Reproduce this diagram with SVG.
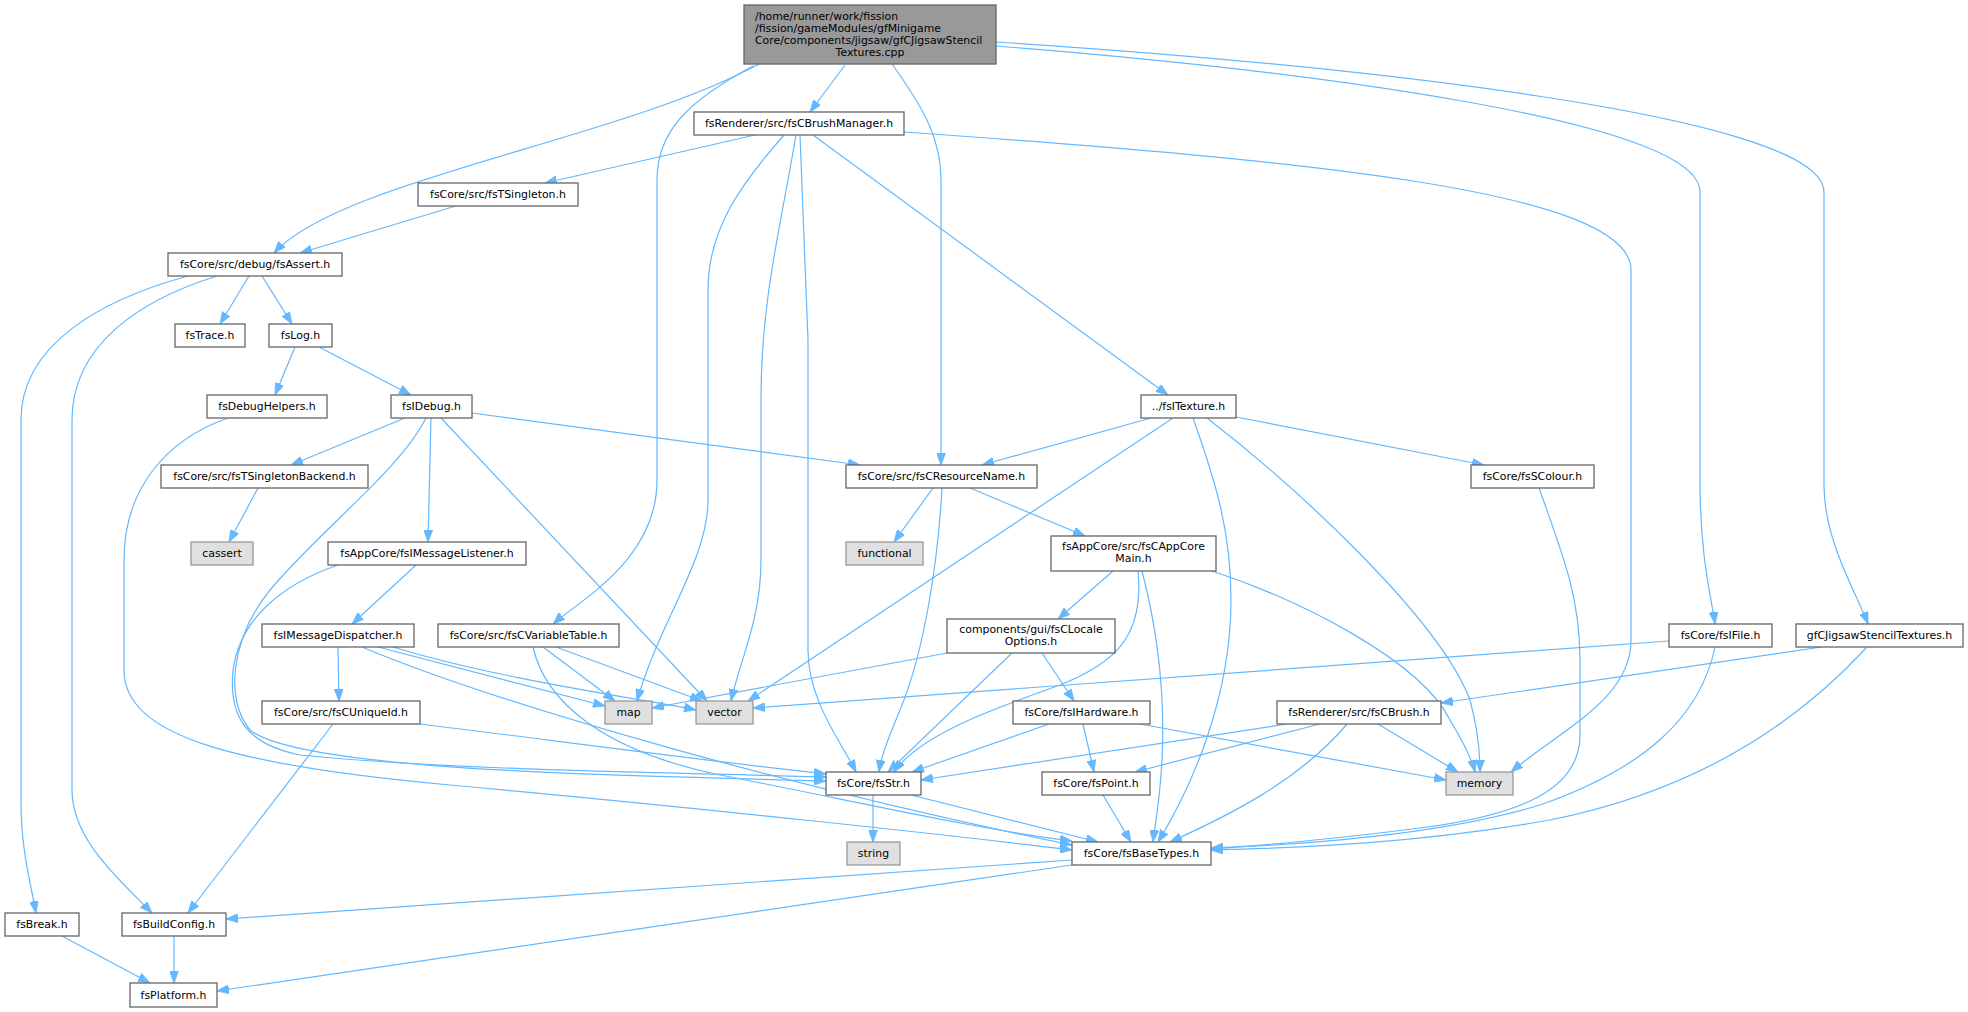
<svg xmlns="http://www.w3.org/2000/svg" width="1968" height="1012" viewBox="0 0 1968 1012">
<style>
.n rect{fill:#ffffff;stroke:#666666;stroke-width:1.3}
.x rect{fill:#e0e0e0;stroke:#999999;stroke-width:1.3}
.m rect{fill:#999999;stroke:#666666;stroke-width:1.3}
text{font-family:"DejaVu Sans",sans-serif;font-size:10.9px;fill:#000000}
.c{text-anchor:middle}
#edges path{fill:none;stroke:#63b8ff;stroke-width:1.2;marker-end:url(#ah)}
</style>
<defs>
<marker id="ah" markerUnits="userSpaceOnUse" markerWidth="12" markerHeight="9" refX="12" refY="4.5" orient="auto"><path d="M0,0 L12,4.5 L0,9 z" fill="#63b8ff" stroke="#63b8ff" stroke-width="0.8"/></marker>
</defs>
<rect width="1968" height="1012" fill="#ffffff"/>
<g id="edges">
<path d="M759,64 C620,140 340,180 274,253"/>
<path d="M845,65 L810,112"/>
<path d="M753,66 C690,100 657,130 657,180 L657,480 C657,560 580,600 553,624"/>
<path d="M892,64 C925,110 941,140 941,180 L941,465"/>
<path d="M996,46 C1300,70 1700,120 1700,192 L1700,480 C1700,560 1712,600 1715,624"/>
<path d="M996,42 C1350,65 1824,115 1824,192 L1824,485 C1824,540 1855,590 1868,624"/>
<path d="M755,135 L545,183"/>
<path d="M904,132 C1300,160 1631,190 1631,270 L1631,640 C1631,700 1560,730 1511,772"/>
<path d="M784,135 C740,185 708,230 708,290 L708,500 C708,560 660,620 637,701"/>
<path d="M796,135 C780,230 761,300 761,400 L761,560 C761,620 740,660 731,701"/>
<path d="M800,135 L808,340 L808,650 C808,700 840,740 856,772"/>
<path d="M813,135 L1168,395"/>
<path d="M459,205 L300,253"/>
<path d="M249,276 L220,324"/>
<path d="M262,276 L292,324"/>
<path d="M188,276 C100,300 21,345 21,420 L21,800 C21,850 30,880 36,913"/>
<path d="M217,276 C140,300 72,345 72,420 L72,790 C72,840 120,880 152,913"/>
<path d="M295,347 L275,395"/>
<path d="M319,347 L411,395"/>
<path d="M228,418 C165,440 124,490 124,560 L124,670 C124,735 230,765 450,785 C700,808 950,835 1072,850"/>
<path d="M405,418 L291,465"/>
<path d="M431,418 L428,542"/>
<path d="M472,413 L860,465"/>
<path d="M441,418 L707,701"/>
<path d="M426,418 C400,470 320,530 270,590 C230,640 225,700 250,730 C300,770 600,775 826,781"/>
<path d="M258,488 L229,542"/>
<path d="M416,565 L352,624"/>
<path d="M338,565 C280,585 240,620 233,670 C228,720 250,745 300,755 C450,770 650,772 826,777"/>
<path d="M338,647 L339,701"/>
<path d="M362,647 C500,705 800,790 1072,845"/>
<path d="M378,647 L605,706"/>
<path d="M393,647 C500,680 650,700 696,710"/>
<path d="M533,647 C545,700 600,750 720,775 C850,800 980,830 1072,841"/>
<path d="M543,647 L615,701"/>
<path d="M556,647 L702,701"/>
<path d="M333,724 L188,913"/>
<path d="M420,724 C550,740 700,760 826,774"/>
<path d="M933,488 L894,542"/>
<path d="M942,488 C938,560 925,650 900,710 C890,735 882,752 879,772"/>
<path d="M970,488 L1085,536"/>
<path d="M1113,571 L1058,619"/>
<path d="M1138,571 C1145,640 1110,665 1060,685 C990,710 920,735 894,772"/>
<path d="M1142,571 C1160,640 1165,700 1162,760 C1160,800 1155,825 1153,842"/>
<path d="M1212,571 C1300,600 1420,660 1450,720 C1465,745 1472,760 1475,772"/>
<path d="M947,653 L652,708"/>
<path d="M1012,653 L888,772"/>
<path d="M1042,653 L1074,701"/>
<path d="M1049,724 L912,772"/>
<path d="M1083,724 L1094,772"/>
<path d="M1140,724 L1446,780"/>
<path d="M1287,724 L921,780"/>
<path d="M1320,724 L1135,772"/>
<path d="M1347,724 C1300,780 1230,815 1170,842"/>
<path d="M1378,724 L1458,772"/>
<path d="M1103,795 L1131,842"/>
<path d="M911,795 L1098,842"/>
<path d="M873,795 L873,842"/>
<path d="M1072,860 L226,919"/>
<path d="M1072,865 L217,991"/>
<path d="M174,936 L174,983"/>
<path d="M62,936 L150,983"/>
<path d="M1151,418 L982,465"/>
<path d="M1173,418 L748,701"/>
<path d="M1193,418 C1215,480 1231,530 1231,600 C1231,700 1190,790 1158,842"/>
<path d="M1207,418 C1300,490 1440,620 1470,700 C1478,730 1480,750 1480,772"/>
<path d="M1236,417 L1484,465"/>
<path d="M1539,488 C1565,560 1580,600 1580,660 L1580,735 C1580,790 1520,815 1420,828 C1350,837 1260,846 1211,849"/>
<path d="M1669,641 L753,708"/>
<path d="M1715,647 C1700,720 1640,770 1540,805 C1440,835 1300,845 1211,848"/>
<path d="M1822,647 L1441,703"/>
<path d="M1867,647 C1800,720 1700,790 1550,820 C1420,843 1300,848 1211,850"/>
</g>
<g id="n_main" class="m"><rect x="744" y="5" width="252" height="59"/><text x="755" y="19.5">/home/runner/work/fission</text><text x="755" y="31.5">/fission/gameModules/gfMinigame</text><text x="755" y="43.5">Core/components/jigsaw/gfCJigsawStencil</text><text class="c" x="870" y="55.5">Textures.cpp</text></g>
<g id="n_brushmgr" class="n"><rect x="694" y="112" width="210" height="23"/><text class="c" x="799" y="127.3">fsRenderer/src/fsCBrushManager.h</text></g>
<g id="n_tsingleton" class="n"><rect x="418" y="183" width="160" height="23"/><text class="c" x="498" y="198.3">fsCore/src/fsTSingleton.h</text></g>
<g id="n_assert" class="n"><rect x="168" y="253" width="174" height="23"/><text class="c" x="255" y="268.3">fsCore/src/debug/fsAssert.h</text></g>
<g id="n_trace" class="n"><rect x="175" y="324" width="70" height="23"/><text class="c" x="210" y="339.3">fsTrace.h</text></g>
<g id="n_log" class="n"><rect x="269" y="324" width="63" height="23"/><text class="c" x="300.5" y="339.3">fsLog.h</text></g>
<g id="n_debughelpers" class="n"><rect x="207" y="395" width="120" height="23"/><text class="c" x="267" y="410.3">fsDebugHelpers.h</text></g>
<g id="n_idebug" class="n"><rect x="391" y="395" width="81" height="23"/><text class="c" x="431.5" y="410.3">fsIDebug.h</text></g>
<g id="n_tsingletonbackend" class="n"><rect x="161" y="465" width="207" height="23"/><text class="c" x="264.5" y="480.3">fsCore/src/fsTSingletonBackend.h</text></g>
<g id="n_cassert" class="x"><rect x="191" y="542" width="62" height="23"/><text class="c" x="222" y="557.3">cassert</text></g>
<g id="n_msglistener" class="n"><rect x="328" y="542" width="198" height="23"/><text class="c" x="427" y="557.3">fsAppCore/fsIMessageListener.h</text></g>
<g id="n_msgdispatcher" class="n"><rect x="262" y="624" width="152" height="23"/><text class="c" x="338" y="639.3">fsIMessageDispatcher.h</text></g>
<g id="n_cvariabletable" class="n"><rect x="438" y="624" width="181" height="23"/><text class="c" x="528.5" y="639.3">fsCore/src/fsCVariableTable.h</text></g>
<g id="n_cuniqueid" class="n"><rect x="262" y="701" width="158" height="23"/><text class="c" x="341" y="716.3">fsCore/src/fsCUniqueId.h</text></g>
<g id="n_map" class="x"><rect x="605" y="701" width="47" height="23"/><text class="c" x="628.5" y="716.3">map</text></g>
<g id="n_vector" class="x"><rect x="696" y="701" width="57" height="23"/><text class="c" x="724.5" y="716.3">vector</text></g>
<g id="n_resourcename" class="n"><rect x="846" y="465" width="191" height="23"/><text class="c" x="941.5" y="480.3">fsCore/src/fsCResourceName.h</text></g>
<g id="n_functional" class="x"><rect x="846" y="542" width="77" height="23"/><text class="c" x="884.5" y="557.3">functional</text></g>
<g id="n_appcoremain" class="n"><rect x="1051" y="536" width="165" height="35"/><text class="c" x="1133.5" y="550">fsAppCore/src/fsCAppCore</text><text class="c" x="1133.5" y="562">Main.h</text></g>
<g id="n_localeoptions" class="n"><rect x="947" y="619" width="168" height="34"/><text class="c" x="1031" y="632.5">components/gui/fsCLocale</text><text class="c" x="1031" y="644.5">Options.h</text></g>
<g id="n_ihardware" class="n"><rect x="1013" y="701" width="137" height="23"/><text class="c" x="1081.5" y="716.3">fsCore/fsIHardware.h</text></g>
<g id="n_cbrush" class="n"><rect x="1277" y="701" width="164" height="23"/><text class="c" x="1359" y="716.3">fsRenderer/src/fsCBrush.h</text></g>
<g id="n_str" class="n"><rect x="826" y="772" width="95" height="23"/><text class="c" x="873.5" y="787.3">fsCore/fsStr.h</text></g>
<g id="n_point" class="n"><rect x="1042" y="772" width="108" height="23"/><text class="c" x="1096" y="787.3">fsCore/fsPoint.h</text></g>
<g id="n_string" class="x"><rect x="847" y="842" width="53" height="23"/><text class="c" x="873.5" y="857.3">string</text></g>
<g id="n_basetypes" class="n"><rect x="1072" y="842" width="139" height="23"/><text class="c" x="1141.5" y="857.3">fsCore/fsBaseTypes.h</text></g>
<g id="n_memory" class="x"><rect x="1446" y="772" width="67" height="23"/><text class="c" x="1479.5" y="787.3">memory</text></g>
<g id="n_itexture" class="n"><rect x="1141" y="395" width="95" height="23"/><text class="c" x="1188.5" y="410.3">../fsITexture.h</text></g>
<g id="n_scolour" class="n"><rect x="1471" y="465" width="123" height="23"/><text class="c" x="1532.5" y="480.3">fsCore/fsSColour.h</text></g>
<g id="n_ifile" class="n"><rect x="1669" y="624" width="103" height="23"/><text class="c" x="1720.5" y="639.3">fsCore/fsIFile.h</text></g>
<g id="n_jigsawh" class="n"><rect x="1796" y="624" width="167" height="23"/><text class="c" x="1879.5" y="639.3">gfCJigsawStencilTextures.h</text></g>
<g id="n_break" class="n"><rect x="5" y="913" width="74" height="23"/><text class="c" x="42" y="928.3">fsBreak.h</text></g>
<g id="n_buildconfig" class="n"><rect x="122" y="913" width="104" height="23"/><text class="c" x="174" y="928.3">fsBuildConfig.h</text></g>
<g id="n_platform" class="n"><rect x="130" y="983" width="87" height="24"/><text class="c" x="173.5" y="999">fsPlatform.h</text></g>
</svg>
